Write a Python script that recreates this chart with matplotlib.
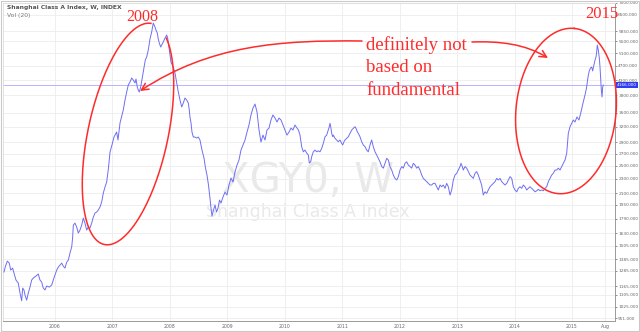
import numpy as np
import matplotlib
matplotlib.use("Agg")
import matplotlib.pyplot as plt
from matplotlib.path import Path
from matplotlib.patches import FancyArrowPatch, Rectangle
from matplotlib.ticker import NullLocator

# weekly close (decimal year, index level)
years = [
    2005.112, 2005.138, 2005.170, 2005.204, 2005.229, 2005.263, 2005.286, 2005.321, 2005.361, 2005.391,
    2005.420, 2005.438, 2005.460, 2005.478, 2005.507, 2005.535, 2005.565, 2005.594, 2005.622, 2005.669,
    2005.709, 2005.739, 2005.768, 2005.796, 2005.826, 2005.855, 2005.901, 2005.943, 2005.970, 2006.000,
    2006.030, 2006.057, 2006.087, 2006.117, 2006.145, 2006.174, 2006.204, 2006.232, 2006.261, 2006.291,
    2006.308, 2006.319, 2006.348, 2006.378, 2006.406, 2006.435, 2006.465, 2006.493, 2006.522, 2006.552,
    2006.580, 2006.609, 2006.639, 2006.667, 2006.696, 2006.726, 2006.754, 2006.783, 2006.813, 2006.841,
    2006.871, 2006.900, 2006.931, 2006.958, 2006.992, 2007.027, 2007.074, 2007.097, 2007.132, 2007.189,
    2007.219, 2007.248, 2007.276, 2007.306, 2007.335, 2007.363, 2007.393, 2007.410, 2007.433, 2007.450,
    2007.468, 2007.492, 2007.527, 2007.549, 2007.572, 2007.596, 2007.624, 2007.654, 2007.683, 2007.711,
    2007.741, 2007.758, 2007.781, 2007.798, 2007.816, 2007.840, 2007.858, 2007.885, 2007.915, 2007.945,
    2007.962, 2007.979, 2008.002, 2008.019, 2008.042, 2008.060, 2008.089, 2008.119, 2008.147, 2008.176,
    2008.206, 2008.234, 2008.263, 2008.293, 2008.321, 2008.338, 2008.350, 2008.368, 2008.385, 2008.408,
    2008.437, 2008.467, 2008.495, 2008.524, 2008.559, 2008.594, 2008.620, 2008.646, 2008.672, 2008.698,
    2008.716, 2008.733, 2008.759, 2008.786, 2008.812, 2008.838, 2008.864, 2008.890, 2008.925, 2008.960,
    2008.994, 2009.029, 2009.064, 2009.099, 2009.134, 2009.169, 2009.203, 2009.238, 2009.273, 2009.308,
    2009.343, 2009.377, 2009.412, 2009.447, 2009.482, 2009.517, 2009.552, 2009.586, 2009.621, 2009.656,
    2009.691, 2009.726, 2009.760, 2009.795, 2009.830, 2009.865, 2009.900, 2009.935, 2009.969, 2010.004,
    2010.039, 2010.074, 2010.109, 2010.143, 2010.178, 2010.213, 2010.239, 2010.265, 2010.295, 2010.323,
    2010.352, 2010.382, 2010.410, 2010.427, 2010.452, 2010.469, 2010.497, 2010.527, 2010.556, 2010.584,
    2010.613, 2010.643, 2010.671, 2010.701, 2010.730, 2010.758, 2010.775, 2010.788, 2010.805, 2010.817,
    2010.835, 2010.845, 2010.875, 2010.904, 2010.932, 2010.962, 2010.991, 2011.009, 2011.031, 2011.049,
    2011.078, 2011.106, 2011.136, 2011.165, 2011.193, 2011.223, 2011.240, 2011.263, 2011.280, 2011.310,
    2011.339, 2011.367, 2011.397, 2011.426, 2011.454, 2011.484, 2011.513, 2011.541, 2011.571, 2011.600,
    2011.629, 2011.658, 2011.688, 2011.716, 2011.745, 2011.775, 2011.803, 2011.832, 2011.862, 2011.890,
    2011.919, 2011.949, 2011.977, 2012.006, 2012.036, 2012.064, 2012.093, 2012.123, 2012.151, 2012.180,
    2012.210, 2012.238, 2012.267, 2012.297, 2012.325, 2012.354, 2012.384, 2012.412, 2012.442, 2012.471,
    2012.499, 2012.529, 2012.558, 2012.586, 2012.616, 2012.645, 2012.673, 2012.703, 2012.732, 2012.760,
    2012.790, 2012.819, 2012.847, 2012.877, 2012.906, 2012.934, 2012.964, 2012.993, 2013.021, 2013.051,
    2013.068, 2013.091, 2013.108, 2013.138, 2013.167, 2013.195, 2013.225, 2013.254, 2013.282, 2013.312,
    2013.341, 2013.369, 2013.399, 2013.428, 2013.456, 2013.486, 2013.516, 2013.543, 2013.573, 2013.603,
    2013.631, 2013.660, 2013.690, 2013.718, 2013.747, 2013.777, 2013.805, 2013.834, 2013.864, 2013.892,
    2013.921, 2013.951, 2013.979, 2014.008, 2014.038, 2014.066, 2014.095, 2014.125, 2014.153, 2014.182,
    2014.212, 2014.240, 2014.270, 2014.299, 2014.327, 2014.357, 2014.386, 2014.414, 2014.444, 2014.473,
    2014.501, 2014.531, 2014.560, 2014.588, 2014.618, 2014.647, 2014.675, 2014.705, 2014.734, 2014.762,
    2014.792, 2014.821, 2014.849, 2014.879, 2014.908, 2014.936, 2014.966, 2014.995, 2015.023, 2015.052,
    2015.087, 2015.122, 2015.157, 2015.192, 2015.227, 2015.253, 2015.279, 2015.301, 2015.322, 2015.343,
    2015.360, 2015.383, 2015.401, 2015.418, 2015.430, 2015.441, 2015.458, 2015.476, 2015.488, 2015.500,
    2015.511, 2015.523, 2015.535, 2015.546,
]
closes = [
    1276, 1324, 1367, 1350, 1292, 1308, 1268, 1213, 1190, 1117,
    1064, 1153, 1139, 1103, 1068, 1117, 1160, 1213, 1228, 1244,
    1260, 1213, 1198, 1153, 1139, 1168, 1160, 1175, 1213, 1252,
    1292, 1316, 1333, 1350, 1324, 1308, 1358, 1376, 1439, 1495,
    1592, 1717, 1739, 1696, 1633, 1664, 1717, 1795, 1739, 1664,
    1696, 1685, 1739, 1806, 1853, 1865, 1889, 1925, 1987, 2103,
    2185, 2255, 2464, 2726, 2850, 2998, 3093, 2942, 3276, 3557,
    3789, 3985, 4166, 4246, 4355, 4300, 4219, 4327, 4114, 4036,
    3985, 4114, 4439, 4668, 4878, 4973, 5198, 5574, 5827, 6168,
    6013, 5900, 5789, 5574, 5434, 5299, 5366, 5468, 5609, 5716,
    5609, 5366, 5037, 4818, 4728, 4668, 4495, 4219, 3985, 3789,
    3625, 3717, 3837, 3789, 3717, 3557, 3403, 3276, 3093, 2998,
    2998, 2979, 2998, 2942, 2761, 2625, 2464, 2357, 2213, 2038,
    1913, 1818, 1889, 1949, 1865, 1913, 2012, 1974, 2051, 2116,
    2077, 2213, 2313, 2255, 2402, 2511, 2592, 2761, 2850, 2942,
    3093, 3234, 3446, 3602, 3693, 3512, 3133, 2904, 3035, 2942,
    3133, 3173, 3339, 3446, 3381, 3297, 3381, 3339, 3234, 3133,
    3035, 3093, 3173, 3133, 3234, 3173, 3133, 3035, 2818, 2730,
    2761, 2709, 2675, 2543, 2563, 2647, 2730, 2761, 2730, 2748,
    2730, 2791, 2880, 3003, 3035, 3133, 3200, 3269, 3167, 3068,
    3003, 3035, 2973, 2942, 2910, 2942, 2880, 2850, 2910, 2942,
    2973, 3003, 3068, 3133, 3167, 3200, 3167, 3099, 3068, 3003,
    2910, 2850, 2820, 2761, 2730, 2850, 2942, 2820, 2730, 2675,
    2620, 2563, 2487, 2462, 2538, 2620, 2592, 2487, 2433, 2357,
    2308, 2284, 2333, 2433, 2487, 2462, 2538, 2563, 2511, 2487,
    2462, 2538, 2511, 2462, 2487, 2433, 2357, 2308, 2284, 2260,
    2236, 2213, 2213, 2236, 2236, 2189, 2144, 2213, 2189, 2213,
    2167, 2236, 2189, 2077, 2144, 2284, 2357, 2383, 2433, 2487,
    2538, 2487, 2433, 2487, 2462, 2409, 2357, 2333, 2308, 2383,
    2409, 2357, 2284, 2213, 2077, 2120, 2099, 2144, 2189, 2213,
    2236, 2260, 2308, 2284, 2308, 2260, 2236, 2213, 2236, 2284,
    2333, 2308, 2189, 2144, 2120, 2167, 2189, 2167, 2213, 2189,
    2144, 2167, 2189, 2167, 2144, 2120, 2134, 2153, 2134, 2144,
    2134, 2167, 2189, 2260, 2308, 2357, 2383, 2433, 2433, 2462,
    2433, 2487, 2538, 2592, 2703, 3068, 3200, 3269, 3339, 3297,
    3403, 3339, 3512, 3717, 3911, 4088, 4383, 4554, 4639, 4668,
    4554, 4728, 4878, 4973, 5135, 5366, 5198, 4942, 4668, 4300,
    4036, 3862, 4114, 4166,
]

price_ticks = [951, 1025, 1105, 1165, 1285, 1385, 1505, 1630, 1790, 1950, 2100, 2300,
               2500, 2700, 2900, 3200, 3500, 3900, 4300, 4700, 5100, 5500, 5850, 6500, 7000]
year_ticks = [2006, 2007, 2008, 2009, 2010, 2011, 2012, 2013, 2014, 2015, 2015.58]
year_labels = ["2006", "2007", "2008", "2009", "2010", "2011", "2012", "2013", "2014", "2015", "Aug"]

RED = "#ff2b2b"
LINE = "#6e6ef3"
W, H = 640, 332

fig = plt.figure(figsize=(6.4, 3.32), dpi=100)
fig.patch.set_facecolor("white")

ax = fig.add_axes([3 / W, (H - 321) / H, 612 / W, 318 / H])
ax.set_yscale("log")
ax.set_xlim(2005.095, 2015.749)
ax.set_ylim(936, 7000)

ax.plot(years, closes, color=LINE, lw=0.7, zorder=3)
ax.axhline(closes[-1], color="#aaaaff", lw=0.6, zorder=2)

ax.yaxis.tick_right()
ax.set_yticks(price_ticks)
ax.set_yticklabels([f"{v:.3f}" for v in price_ticks])
ax.yaxis.set_minor_locator(NullLocator())
ax.tick_params(axis="y", labelsize=3.1, colors="#666666", length=1.5, width=0.5, pad=0.8)
ax.set_xticks(year_ticks)
ax.set_xticklabels(year_labels)
ax.tick_params(axis="x", labelsize=3.3, colors="#666666", length=0, pad=2.5)
ax.grid(True, color="#ededed", lw=0.6, zorder=0)
for side in ["left", "top"]:
    ax.spines[side].set_color("#dddddd")
    ax.spines[side].set_linewidth(0.6)
for side in ["right", "bottom"]:
    ax.spines[side].set_color("#9a9a9a")
    ax.spines[side].set_linewidth(0.7)

# watermark behind the series
ax.text(0.498, 0.44, "XGY0, W", transform=ax.transAxes, fontsize=29,
        color="#e9e9e9", ha="center", va="center", zorder=1)
ax.text(0.498, 0.343, "Shanghai Class A Index", transform=ax.transAxes, fontsize=12.5,
        color="#e9e9e9", ha="center", va="center", zorder=1)

# last price flag on the axis
ax.text(1.003, closes[-1], f"{closes[-1]:.3f}", transform=ax.get_yaxis_transform(),
        fontsize=3.1, color="white", ha="left", va="center", zorder=6, clip_on=False,
        bbox=dict(boxstyle="square,pad=0.3", fc="#2f3cf0", ec="none"))

# overlay in pixel coordinates for the hand-drawn notes
ov = fig.add_axes([0, 0, 1, 1], zorder=5)
ov.set_xlim(0, W)
ov.set_ylim(H, 0)
ov.axis("off")
ov.patch.set_alpha(0)

ov.add_patch(Rectangle((1, 1), W - 2, H - 2, fill=False, ec="#c9c9c9", lw=0.8))
ov.text(7, 7, "Shanghai Class A Index, W, INDEX", fontsize=4.3, weight="bold",
        color="#555555", va="center")
ov.text(7, 15, "Vol (20)", fontsize=4.3, color="#777777", va="center")


def ellipse(cx, cy, a, b, ux, uy, t0, t1):
    n = np.hypot(ux, uy)
    ux, uy = ux / n, uy / n
    vx, vy = -uy, ux
    t = np.linspace(t0, t1, 300)
    xs = cx + a * np.cos(t) * ux + b * np.sin(t) * vx
    ys = cy + a * np.cos(t) * uy + b * np.sin(t) * vy
    return xs, ys


xs, ys = ellipse(128, 134, 113, 40, 47, -219, 0.45, 2 * np.pi - 0.02)
ov.plot(xs, ys, color=RED, lw=1.1)
xs, ys = ellipse(566, 111, 83, 50, 10, -99, 0, 2 * np.pi)
ov.plot(xs, ys, color=RED, lw=1.1)

serif = ["Liberation Serif", "DejaVu Serif"]
ov.text(142, 17, "2008", family=serif, fontsize=11.5, color=RED, ha="center", va="center")
ov.text(602, 14, "2015", family=serif, fontsize=12, color=RED, ha="center", va="center")
ov.text(366, 36, "definitely not\nbased on\nfundamental", family=serif, fontsize=13.5,
        color=RED, ha="left", va="top", linespacing=1.42)

left_arrow = Path([(362, 41), (280, 40), (210, 45), (140, 91)],
                  [Path.MOVETO, Path.CURVE4, Path.CURVE4, Path.CURVE4])
ov.add_patch(FancyArrowPatch(path=left_arrow, arrowstyle="->,head_length=5,head_width=2.5",
                             color=RED, lw=1.1))
right_arrow = Path([(472, 42), (500, 41), (525, 44), (548, 58)],
                   [Path.MOVETO, Path.CURVE4, Path.CURVE4, Path.CURVE4])
ov.add_patch(FancyArrowPatch(path=right_arrow, arrowstyle="->,head_length=5,head_width=2.5",
                             color=RED, lw=1.1))

fig.savefig("out.png", dpi=100)
